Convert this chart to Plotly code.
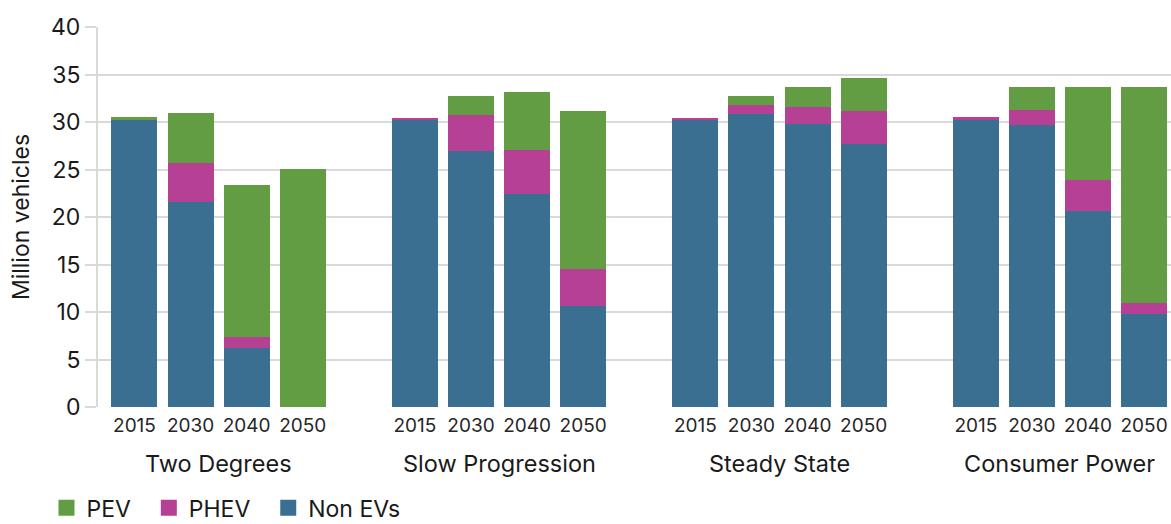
import plotly.graph_objects as go

scenarios = ["Two Degrees", "Slow Progression", "Steady State", "Consumer Power"]
years = ["2015", "2030", "2040", "2050"]

non_evs = [30.3, 21.6, 6.2, 0.0,
           30.25, 26.9, 22.4, 10.6,
           30.25, 30.85, 29.8, 27.7,
           30.3, 29.65, 20.6, 9.8]
phev = [0.0, 4.05, 1.14, 0.0,
        0.14, 3.8, 4.7, 3.9,
        0.14, 0.9, 1.75, 3.5,
        0.2, 1.65, 3.3, 1.1]
pev = [0.2, 5.35, 16.0, 25.1,
       0.0, 2.0, 6.1, 16.7,
       0.0, 0.95, 2.1, 3.4,
       0.0, 2.35, 9.75, 22.75]

C_PEV = "#629D43"
C_PHEV = "#B54094"
C_NON = "#3A6F91"
FONT = "Inter"
TXT = "#1a1a1a"
GRID = "#d9d9d9"

# x positions: each scenario occupies 4 year slots plus one empty spacer slot
slot = len(years) + 1
xpos = [g * slot + i for g in range(len(scenarios)) for i in range(len(years))]
xtext = [y for _ in scenarios for y in years]

fig = go.Figure()
for name, vals, col in [("Non EVs", non_evs, C_NON), ("PHEV", phev, C_PHEV), ("PEV", pev, C_PEV)]:
    fig.add_trace(go.Bar(x=xpos, y=vals, name=name, marker=dict(color=col, line=dict(width=0)),
                         width=0.82, showlegend=False))

# legend entries (square swatches); nbsp padding widens the spacing between entries
for name, col in [("PEV", C_PEV), ("PHEV", C_PHEV), ("Non EVs", C_NON)]:
    fig.add_trace(go.Scatter(x=[None], y=[None], mode="markers", name=name + "\u00a0\u00a0",
                             marker=dict(symbol="square", size=18, color=col, line=dict(width=0))))

for g, s in enumerate(scenarios):
    fig.add_annotation(x=g * slot + (len(years) - 1) / 2, y=-0.148, xref="x", yref="paper",
                       text=s, showarrow=False, font=dict(family=FONT, size=23.5, color=TXT),
                       xanchor="center", yanchor="middle")

fig.update_layout(
    width=1171, height=524,
    margin=dict(l=98, r=0, t=27, b=117, autoexpand=False),
    barmode="stack",
    plot_bgcolor="white", paper_bgcolor="white",
    font=dict(family=FONT, color=TXT),
    showlegend=True,
    legend=dict(orientation="h", x=-0.048, xanchor="left", xref="paper",
                y=0.031, yanchor="middle", yref="container",
                font=dict(family=FONT, size=23, color=TXT), traceorder="normal",
                itemsizing="trace", bgcolor="rgba(0,0,0,0)"),
    xaxis=dict(range=[-0.65, 18.48], tickmode="array", tickvals=xpos, ticktext=xtext,
               showgrid=False, zeroline=False, showline=False, ticks="",
               ticklabelstandoff=5,
               tickfont=dict(family=FONT, size=19, color="#262626")),
    yaxis=dict(range=[0, 40], tickvals=[0, 5, 10, 15, 20, 25, 30, 35, 40],
               showgrid=True, gridcolor=GRID, gridwidth=2,
               showline=True, linecolor=GRID, linewidth=2,
               ticks="outside", ticklen=11, tickwidth=2, tickcolor=GRID,
               zeroline=False,
               tickfont=dict(family=FONT, size=23, color=TXT),
               title=dict(text="Million vehicles", font=dict(family=FONT, size=23, color=TXT), standoff=15)),
)

fig.write_html("out.html", config={"displayModeBar": False},
               post_script="document.body.style.margin='0';document.body.style.overflow='hidden';")
